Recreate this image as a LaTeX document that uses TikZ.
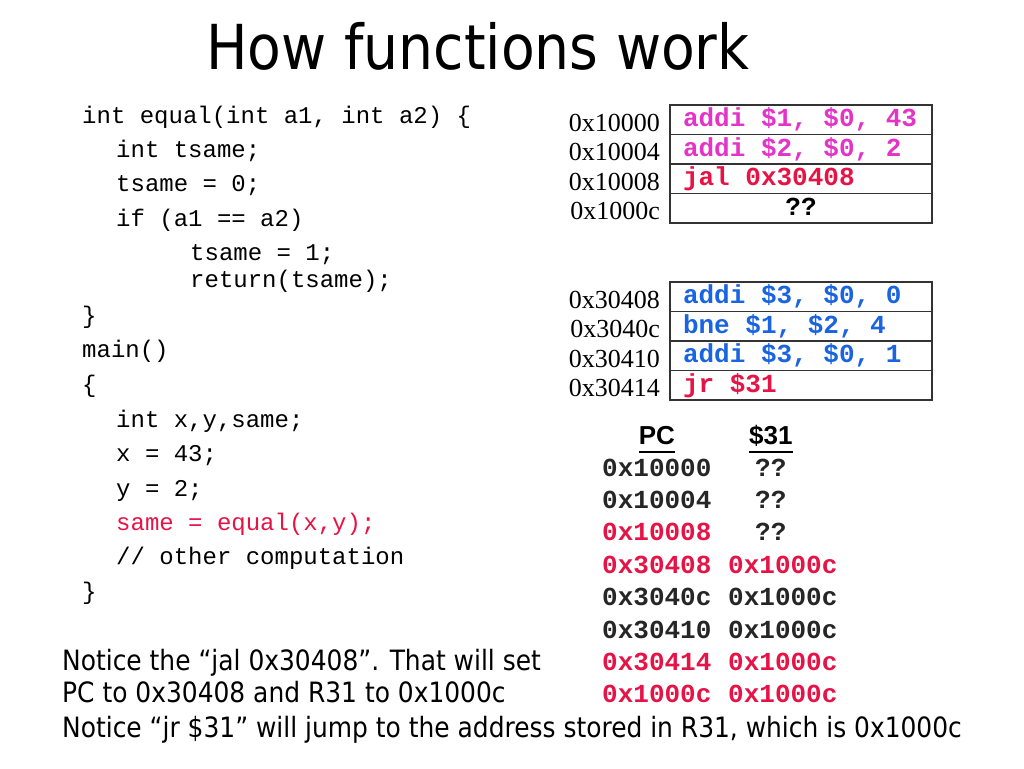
\documentclass[tikz,border=0pt]{standalone}
\usepackage{fontspec}
\setmainfont[FakeStretch=0.89]{DejaVu Sans}
\newfontfamily\codefont[WordSpace={1,0,0}]{Liberation Mono}
\newfontfamily\addrfont{Liberation Serif}
\newfontfamily\headfont{Liberation Sans}
\usetikzlibrary{chains,
                positioning}

\definecolor{asmpink}{RGB}{228,52,200}
\definecolor{asmred}{RGB}{230,20,70}
\definecolor{asmblue}{RGB}{25,100,225}

\newcommand{\ulhead}[1]{\setbox0=\hbox{#1}\rlap{\rule[-8pt]{\wd0}{2pt}}\box0}
\newcommand{\instr}[2][l]{\makebox[236pt][#1]{#2}}

\begin{document}
\begin{tikzpicture}[x=1pt, y=-1pt,
            node distance = 0pt and 10pt,
            code/.style = {font=\codefont\fontsize{24}{24}\selectfont,
                    anchor=base west, inner sep=0pt},
            cell/.style = {draw=black!80, line width=1.2pt, outer sep=0pt,
                    minimum height=29.5pt, inner xsep=13pt, inner ysep=0pt,
                    text height=18pt, text depth=4pt,
                    font=\codefont\bfseries\fontsize{26}{26}\selectfont},
            addr/.style = {font=\addrfont\fontsize{26}{26}\selectfont,
                    inner sep=0pt, yshift=-3pt},
            pc/.style = {font=\codefont\bfseries\fontsize{26}{26}\selectfont,
                    inner sep=0pt, minimum height=32pt, text height=18pt,
                    text depth=4pt, text=black!85},
            reg/.style = {pc, text width=110pt, align=center},
            head/.style = {font=\headfont\bfseries\fontsize{26}{26}\selectfont,
                    inner sep=0pt},
            note/.style = {font=\fontsize{28}{28}\selectfont, anchor=base west,
                    inner sep=0pt}]

        \fill[white] (0,0) rectangle (1024,768);
        \useasboundingbox (0,0) rectangle (1024,768);

        \node [font=\fontsize{62}{62}\selectfont, anchor=base,
            inner sep=0pt] (T) at (478,70) {How functions work};

        % C code
        \node [code] (C-1) at (82,123) {int equal(int a1, int a2) \{};
        \node [code] (C-2) at (116,157) {int tsame;};
        \node [code] (C-3) at (116,191) {tsame = 0;};
        \node [code] (C-4) at (116,226) {if (a1 == a2)};
        \node [code] (C-5) at (190,260) {tsame = 1;};
        \node [code] (C-6) at (190,287) {return(tsame);};
        \node [code] (C-7) at (82,323) {\}};
        \node [code] (C-8) at (82,357) {main()};
        \node [code] (C-9) at (82,392) {\{};
        \node [code] (C-10) at (116,427) {int x,y,same;};
        \node [code] (C-11) at (116,461) {x = 43;};
        \node [code] (C-12) at (116,496) {y = 2;};
        \node [code, text=asmred] (C-13) at (116,530) {same = equal(x,y);};
        \node [code] (C-14) at (116,564) {// other computation};
        \node [code] (C-15) at (82,599) {\}};

        % main in memory
        \begin{scope}[start chain = M going below]
        \node [cell, on chain=M, anchor=north west,
            text=asmpink] at (670,105) {\instr{addi \$1, \$0, 43}}; % M-1
        \node [cell, on chain=M, text=asmpink] {\instr{addi \$2, \$0, 2}}; % M-2
        \node [cell, on chain=M, text=asmred]  {\instr{jal 0x30408}}; % M-3
        \node [cell, on chain=M] {\instr[c]{??}}; % M-4
        \end{scope}

        \node [addr, left=of M-1] (a-1) {0x10000};
        \node [addr, left=of M-2] (a-2) {0x10004};
        \node [addr, left=of M-3] (a-3) {0x10008};
        \node [addr, left=of M-4] (a-4) {0x1000c};

        % equal in memory
        \begin{scope}[start chain = S going below]
        \node [cell, on chain=S, anchor=north west,
            text=asmblue] at (670,282) {\instr{addi \$3, \$0, 0}}; % S-1
        \node [cell, on chain=S, text=asmblue] {\instr{bne \$1, \$2, 4}}; % S-2
        \node [cell, on chain=S, text=asmblue] {\instr{addi \$3, \$0, 1}}; % S-3
        \node [cell, on chain=S, text=asmred]  {\instr{jr \$31}}; % S-4
        \end{scope}

        \node [addr, left=of S-1] (b-1) {0x30408};
        \node [addr, left=of S-2] (b-2) {0x3040c};
        \node [addr, left=of S-3] (b-3) {0x30410};
        \node [addr, left=of S-4] (b-4) {0x30414};

        % PC and $31 trace
        \begin{scope}[start chain = P going below]
        \node [pc, on chain=P, anchor=west] at (602,469) {0x10000}; % P-1
        \node [pc, on chain=P] {0x10004}; % P-2
        \node [pc, on chain=P, text=asmred] {0x10008}; % P-3
        \node [pc, on chain=P, text=asmred] {0x30408}; % P-4
        \node [pc, on chain=P] {0x3040c}; % P-5
        \node [pc, on chain=P] {0x30410}; % P-6
        \node [pc, on chain=P, text=asmred] {0x30414}; % P-7
        \node [pc, on chain=P, text=asmred] {0x1000c}; % P-8
        \end{scope}

        \node [reg, right=16pt of P-1, xshift=-12pt] (R-1) {??};
        \node [reg, right=16pt of P-2, xshift=-12pt] (R-2) {??};
        \node [reg, right=16pt of P-3, xshift=-12pt] (R-3) {??};
        \node [reg, right=16pt of P-4, text=asmred] (R-4) {0x1000c};
        \node [reg, right=16pt of P-5] (R-5) {0x1000c};
        \node [reg, right=16pt of P-6] (R-6) {0x1000c};
        \node [reg, right=16pt of P-7, text=asmred] (R-7) {0x1000c};
        \node [reg, right=16pt of P-8, text=asmred] (R-8) {0x1000c};

        \node [head, above=0pt of P-1] (H-1) {\ulhead{PC}};
        \node [head, above=0pt of R-1] (H-2) {\ulhead{\$31}};

        % notes
        \node [note] (N-1) at (62,670) {Notice the “jal 0x30408”. That will set};
        \node [note] (N-2) at (62,702) {PC to 0x30408 and R31 to 0x1000c};
        \node [note] (N-3) at (62,737) {Notice “jr \$31” will jump to the address stored in R31, which is 0x1000c};
    \end{tikzpicture}
\end{document}
